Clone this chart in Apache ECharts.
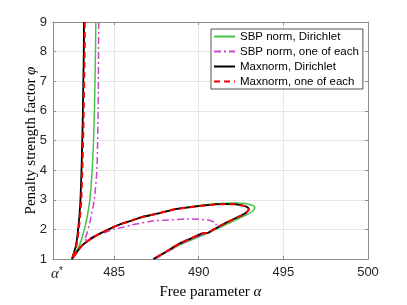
<!DOCTYPE html>
<html><head><meta charset="utf-8">
<script src="https://cdn.jsdelivr.net/npm/echarts@6/dist/echarts.min.js"></script>
<style>html,body{margin:0;padding:0;background:#fff}#c{width:407px;height:305px}</style>
</head><body><div id="c"></div>
<script>
// ---- data ----
const xMin = 481.39, xMax = 500;
const yMin = 1, yMax = 9;
const alphaStar = 481.39; // shown as α*
const seriesNames = ['SBP norm, Dirichlet', 'SBP norm, one of each', 'Maxnorm, Dirichlet', 'Maxnorm, one of each'];

const sbpDirichlet = [
  [483.92, 9.00], [483.90, 8.00], [483.87, 7.00], [483.83, 5.80], [483.77, 4.80], [483.70, 3.95],
  [483.56, 2.97], [483.42, 2.45], [483.24, 1.99], [482.95, 1.46], [482.51, 1.00],
  [482.80, 1.23], [483.09, 1.45], [483.58, 1.66], [484.07, 1.83], [484.57, 1.97], [485.06, 2.10],
  [485.55, 2.21], [486.05, 2.30], [486.54, 2.40], [487.53, 2.53], [488.51, 2.67], [489.50, 2.76],
  [490.38, 2.83], [491.27, 2.87], [492.00, 2.89], [492.60, 2.88], [493.05, 2.83], [493.32, 2.75],
  [493.20, 2.62], [492.75, 2.47], [492.16, 2.31], [491.57, 2.15], [490.78, 1.94], [489.99, 1.74],
  [489.00, 1.51], [488.02, 1.21], [487.38, 1.00]
];
const sbpOneEach = [
  [484.09, 9.00], [484.08, 8.00], [484.07, 7.00], [484.05, 5.80], [484.02, 4.80], [483.98, 3.95],
  [483.82, 2.97], [483.60, 2.32], [483.40, 1.88], [483.26, 1.63], [483.60, 1.72], [484.07, 1.83],
  [485.06, 2.01], [486.05, 2.15], [487.32, 2.29], [488.02, 2.31], [489.30, 2.35], [490.00, 2.34],
  [490.68, 2.30], [490.98, 2.22], [491.03, 2.15], [490.87, 2.02], [490.62, 1.91], [490.18, 1.82],
  [489.60, 1.67], [489.00, 1.52], [488.02, 1.20], [487.40, 1.00]
];
const maxDirichlet = [
  [483.22, 9.00], [483.21, 8.00], [483.18, 7.00], [483.15, 5.80], [483.11, 4.80], [483.07, 3.95],
  [483.01, 2.97], [482.94, 2.40], [482.87, 1.99], [482.75, 1.46], [482.51, 1.00],
  [482.80, 1.23], [483.09, 1.45], [483.58, 1.66], [484.07, 1.83], [484.57, 1.97], [485.06, 2.10],
  [485.55, 2.21], [486.05, 2.30], [486.54, 2.40], [487.53, 2.53], [488.51, 2.67], [489.50, 2.75],
  [490.38, 2.81], [491.27, 2.85], [491.98, 2.85], [492.56, 2.81], [492.84, 2.76], [492.96, 2.68],
  [492.81, 2.57], [492.56, 2.48], [492.04, 2.34], [491.57, 2.21], [491.15, 2.08], [490.78, 1.96],
  [490.56, 1.88], [490.18, 1.86], [489.60, 1.71], [489.00, 1.56], [488.50, 1.40], [488.02, 1.23],
  [487.32, 1.00]
];
const maxOneEach = [
  [483.27, 9.00], [483.26, 8.00], [483.23, 7.00], [483.20, 5.80], [483.16, 4.80], [483.12, 3.95],
  [483.06, 2.97], [482.98, 2.40], [482.91, 1.99], [482.78, 1.46], [482.51, 1.00],
  [482.80, 1.23], [483.09, 1.45], [483.58, 1.66], [484.07, 1.83], [484.57, 1.97], [485.06, 2.10],
  [485.55, 2.21], [486.05, 2.30], [486.54, 2.40], [487.53, 2.53], [488.51, 2.67], [489.50, 2.75],
  [490.38, 2.81], [491.27, 2.85], [491.98, 2.85], [492.56, 2.81], [492.84, 2.76], [492.96, 2.68],
  [492.81, 2.57], [492.56, 2.48], [492.04, 2.34], [491.57, 2.21], [491.15, 2.08], [490.78, 1.96],
  [490.56, 1.88], [490.18, 1.86], [489.60, 1.71], [489.00, 1.56], [488.50, 1.40], [488.02, 1.23],
  [487.32, 1.00]
];
const seriesData = [sbpDirichlet, sbpOneEach, maxDirichlet, maxOneEach];

// ---- styles ----
const colors = ['#47c247', '#cc44cc', '#000000', '#ff0000'];
const widths = [1.5, 1.5, 1.8, 2];
const dashes = ['solid', [7, 3, 2, 3], 'solid', [6, 4]];
const axisColor = '#8c8c8c';
const tickFont = 'Liberation Sans, Arial, sans-serif';
const serif = 'Liberation Serif, Times New Roman, serif';

const chart = echarts.init(document.getElementById('c'), null, {renderer: 'canvas'});

const xCommon = {
  type: 'value', min: xMin, max: xMax, splitNumber: 4, minInterval: 5, maxInterval: 5,
  axisLine: {show: true, onZero: false, lineStyle: {color: axisColor, width: 1}},
  axisTick: {show: true, inside: true, length: 3, lineStyle: {color: axisColor}}
};
const yCommon = {
  type: 'value', min: yMin, max: yMax, interval: 1,
  axisLine: {show: true, onZero: false, lineStyle: {color: axisColor, width: 1}},
  axisTick: {show: true, inside: true, length: 3, lineStyle: {color: axisColor}}
};

chart.setOption({
  animation: false,
  backgroundColor: '#fff',
  grid: {left: 53, right: 39, top: 22, bottom: 38, containLabel: false},
  legend: {
    orient: 'vertical', left: 211, top: 29,
    data: seriesNames,
    backgroundColor: '#fff', borderColor: '#262626', borderWidth: 0.8, borderRadius: 0,
    padding: [0, 4, 0, 2], itemGap: 0, itemWidth: 21, itemHeight: 15,
    itemStyle: {opacity: 0},
    textStyle: {fontFamily: tickFont, fontSize: 11.5, color: '#000', lineHeight: 15}
  },
  xAxis: [
    Object.assign({}, xCommon, {
      position: 'bottom',
      name: '{n|Free parameter }{g|α}', nameLocation: 'middle', nameGap: 26,
      nameMoveOverlap: false,
      nameTextStyle: {rich: {
        n: {fontFamily: serif, fontSize: 15, color: '#000'},
        g: {fontFamily: serif, fontSize: 15, fontStyle: 'italic', color: '#000'}
      }},
      splitLine: {show: true, lineStyle: {color: '#e6e6e6', width: 1}},
      axisLabel: {
        margin: 7, color: '#262626', fontFamily: tickFont, fontSize: 13,
        formatter: function (v) { return v < 484 ? '{a|α}{s|*}' : String(v); },
        rich: {
          a: {fontFamily: serif, fontStyle: 'italic', fontSize: 15, color: '#262626', padding: [0, 0, 0, 8]},
          s: {fontFamily: tickFont, fontSize: 10, color: '#262626', padding: [0, 0, 6, 0]}
        }
      }
    }),
    Object.assign({}, xCommon, {
      position: 'top', axisLabel: {show: false}, splitLine: {show: false}
    })
  ],
  yAxis: [
    Object.assign({}, yCommon, {
      position: 'left',
      name: '{n|Penalty strength factor }{g|φ}', nameLocation: 'middle', nameGap: 14,
      nameMoveOverlap: false,
      nameTextStyle: {rich: {
        n: {fontFamily: serif, fontSize: 15, color: '#000'},
        g: {fontFamily: serif, fontSize: 15, fontStyle: 'italic', color: '#000'}
      }},
      splitLine: {show: true, lineStyle: {color: '#e6e6e6', width: 1}},
      axisLabel: {margin: 6, color: '#262626', fontFamily: tickFont, fontSize: 13}
    }),
    Object.assign({}, yCommon, {
      position: 'right', axisLabel: {show: false}, splitLine: {show: false}
    })
  ],
  series: seriesNames.map(function (name, i) {
    return {
      name: name, type: 'line', xAxisIndex: 0, yAxisIndex: 0,
      data: seriesData[i], symbol: 'none', showSymbol: false, smooth: 0.2,
      color: colors[i],
      lineStyle: {color: colors[i], width: widths[i], type: dashes[i]},
      clip: true, z: 2 + i
    };
  })
});
</script>
</body></html>
